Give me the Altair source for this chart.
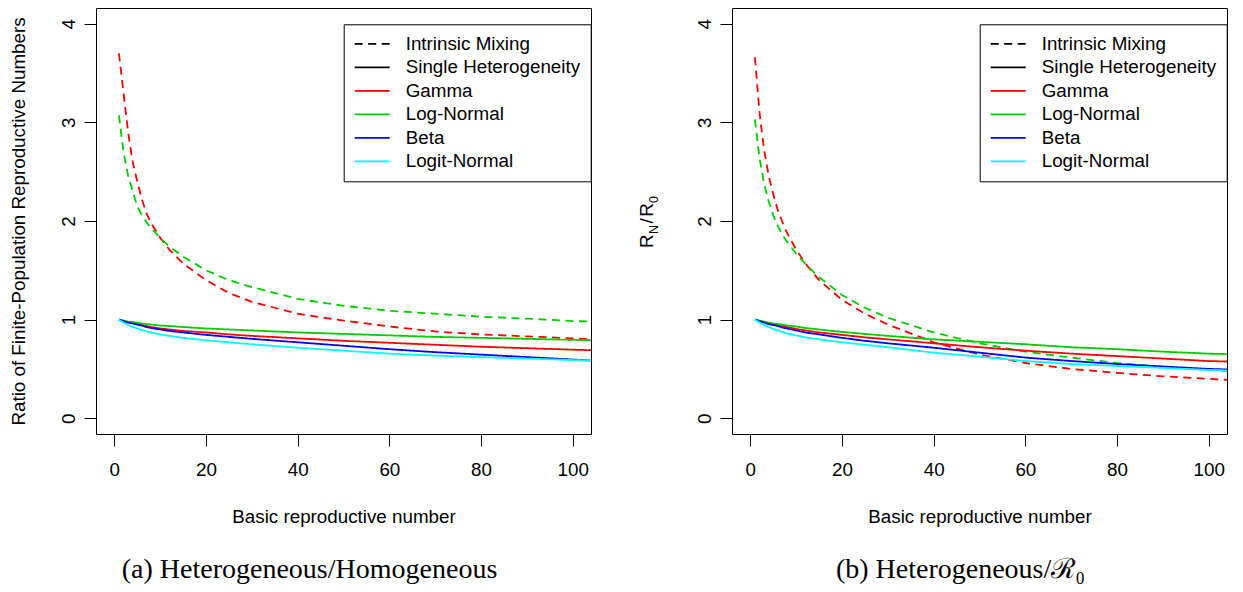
import altair as alt
import pandas as pd

# ---------------- data ----------------
R0 = [1, 2, 3, 4, 5, 6, 7, 8, 10, 12, 15, 20, 25, 30, 40, 50, 60, 70, 80, 90, 100, 104]

# panel (a): Heterogeneous / Homogeneous
a_gamma_mix = [3.70, 3.30, 2.90, 2.60, 2.40, 2.22, 2.08, 1.98, 1.83, 1.71, 1.57, 1.40, 1.27, 1.18, 1.06, 0.99, 0.93, 0.88, 0.85, 0.83, 0.81, 0.80]
a_lognorm_mix = [3.07, 2.70, 2.46, 2.30, 2.15, 2.06, 1.99, 1.93, 1.83, 1.74, 1.64, 1.50, 1.40, 1.33, 1.21, 1.14, 1.09, 1.06, 1.03, 1.01, 0.985, 0.98]
a_gamma_single = [1.00, 0.985, 0.975, 0.965, 0.955, 0.945, 0.935, 0.925, 0.91, 0.90, 0.885, 0.87, 0.85, 0.835, 0.81, 0.785, 0.765, 0.745, 0.725, 0.71, 0.695, 0.69]
a_lognorm_single = [1.00, 0.99, 0.98, 0.975, 0.97, 0.96, 0.955, 0.95, 0.94, 0.935, 0.925, 0.91, 0.90, 0.89, 0.87, 0.855, 0.84, 0.825, 0.815, 0.805, 0.795, 0.79]
a_beta_single = [1.00, 0.985, 0.97, 0.96, 0.95, 0.94, 0.925, 0.915, 0.90, 0.885, 0.87, 0.845, 0.825, 0.805, 0.77, 0.735, 0.70, 0.67, 0.645, 0.62, 0.595, 0.585]
a_logit_single = [1.00, 0.97, 0.945, 0.925, 0.91, 0.895, 0.88, 0.87, 0.85, 0.835, 0.815, 0.79, 0.77, 0.75, 0.715, 0.685, 0.655, 0.635, 0.62, 0.605, 0.59, 0.585]

# panel (b): Heterogeneous / R0
b_gamma_mix = [3.66, 3.10, 2.72, 2.46, 2.27, 2.11, 1.99, 1.88, 1.71, 1.57, 1.40, 1.20, 1.06, 0.95, 0.77, 0.645, 0.56, 0.50, 0.46, 0.425, 0.40, 0.39]
b_lognorm_mix = [3.03, 2.64, 2.38, 2.20, 2.06, 1.95, 1.86, 1.79, 1.67, 1.565, 1.43, 1.25, 1.12, 1.02, 0.87, 0.76, 0.675, 0.615, 0.56, 0.52, 0.49, 0.48]
b_gamma_single = [1.00, 0.985, 0.975, 0.965, 0.955, 0.945, 0.935, 0.925, 0.905, 0.89, 0.87, 0.845, 0.82, 0.80, 0.76, 0.72, 0.685, 0.655, 0.63, 0.605, 0.58, 0.575]
b_lognorm_single = [1.00, 0.99, 0.98, 0.97, 0.96, 0.955, 0.95, 0.94, 0.93, 0.915, 0.90, 0.875, 0.855, 0.835, 0.80, 0.775, 0.75, 0.72, 0.70, 0.675, 0.655, 0.65]
b_beta_single = [1.00, 0.985, 0.97, 0.955, 0.945, 0.935, 0.92, 0.91, 0.89, 0.87, 0.85, 0.815, 0.785, 0.76, 0.715, 0.665, 0.615, 0.58, 0.55, 0.525, 0.50, 0.495]
b_logit_single = [1.00, 0.97, 0.945, 0.925, 0.905, 0.89, 0.875, 0.86, 0.84, 0.82, 0.80, 0.77, 0.745, 0.72, 0.665, 0.625, 0.58, 0.55, 0.53, 0.51, 0.49, 0.485]

items = ["Intrinsic Mixing", "Single Heterogeneity", "Gamma", "Log-Normal", "Beta", "Logit-Normal"]
item_colors = ["#000000", "#000000", "#FF0000", "#00CD00", "#0000FF", "#00FFFF"]
x_ticks = [0, 20, 40, 60, 80, 100]
y_ticks = [0, 1, 2, 3, 4]

DASH = [8, 5.5]
SOLID = [1, 0]
item_dashes = [DASH, SOLID, SOLID, SOLID, SOLID, SOLID]

FONT = "Liberation Sans"
SERIF = "Liberation Serif"
FS = 18.8
W, H = 495, 426


def long_df(series):
    rows = []
    for dist, kind, vals in series:
        for x, v in zip(R0, vals):
            rows.append({"R0": x, "value": v, "dist": dist, "kind": kind})
    return pd.DataFrame(rows)


def legend():
    return alt.Legend(
        title=None, orient="none", direction="vertical",
        legendX=247.7, legendY=16.3, padding=10,
        strokeColor="black", fillColor="white", cornerRadius=0,
        labelFont=FONT, labelFontSize=FS, labelColor="black", labelLimit=400,
        labelOffset=15, symbolType="stroke", symbolSize=1225,
        symbolStrokeWidth=1.8, clipHeight=19, rowPadding=3.5,
    )


def lines_chart(df, ytitle):
    yaxis_kw = dict(
        values=y_ticks, domain=False, grid=False, tickSize=12, tickColor="black",
        tickWidth=1, labelAngle=270, labelAlign="center", labelBaseline="bottom",
        labelPadding=6, labelFont=FONT, labelFontSize=FS, labelColor="black",
    )
    if ytitle:
        yaxis = alt.Axis(
            title=ytitle, titleFont=FONT, titleFontSize=FS, titleFontWeight="normal",
            titleColor="black", titleAngle=270, titleX=-78, titleY=H / 2,
            titleAlign="center", titleBaseline="middle", **yaxis_kw)
    else:
        yaxis = alt.Axis(title=None, **yaxis_kw)
    xaxis = alt.Axis(
        values=x_ticks, domain=False, grid=False, tickSize=12, tickColor="black",
        tickWidth=1, labelFont=FONT, labelFontSize=FS, labelColor="black",
        labelPadding=14, labelFlush=False,
        title="Basic reproductive number", titleFont=FONT, titleFontSize=FS,
        titleFontWeight="normal", titleColor="black", titleX=W / 2, titleY=82,
        titleAlign="center", titleBaseline="middle",
    )
    return alt.Chart(df).mark_line(strokeWidth=1.8, clip=True).encode(
        x=alt.X("R0:Q", scale=alt.Scale(domain=[-4, 104], nice=False, zero=False), axis=xaxis),
        y=alt.Y("value:Q", scale=alt.Scale(domain=[-0.16, 4.16], nice=False, zero=False), axis=yaxis),
        color=alt.Color("dist:N", scale=alt.Scale(domain=items, range=item_colors), legend=legend()),
        strokeDash=alt.StrokeDash("kind:N", scale=alt.Scale(domain=items, range=item_dashes), legend=legend()),
    )


def caption(text, dx):
    return alt.TitleParams(text, orient="bottom", font=SERIF, fontSize=28,
                           fontWeight="normal", color="black", anchor="middle",
                           offset=30, dx=dx)


def label_piece(text, x, y, size):
    return alt.Chart(alt.Data(values=[{}])).mark_text(
        text=text, angle=270, align="left", baseline="alphabetic",
        font=FONT, fontSize=size, color="black",
    ).encode(x=alt.value(x), y=alt.value(y))


df_a = long_df([
    ("Gamma", "Intrinsic Mixing", a_gamma_mix),
    ("Log-Normal", "Intrinsic Mixing", a_lognorm_mix),
    ("Gamma", "Single Heterogeneity", a_gamma_single),
    ("Log-Normal", "Single Heterogeneity", a_lognorm_single),
    ("Beta", "Single Heterogeneity", a_beta_single),
    ("Logit-Normal", "Single Heterogeneity", a_logit_single),
])
df_b = long_df([
    ("Gamma", "Intrinsic Mixing", b_gamma_mix),
    ("Log-Normal", "Intrinsic Mixing", b_lognorm_mix),
    ("Gamma", "Single Heterogeneity", b_gamma_single),
    ("Log-Normal", "Single Heterogeneity", b_lognorm_single),
    ("Beta", "Single Heterogeneity", b_beta_single),
    ("Logit-Normal", "Single Heterogeneity", b_logit_single),
])

panel_a = alt.layer(
    lines_chart(df_a, "Ratio of Finite-Population Reproductive Numbers")
).properties(width=W, height=H, title=caption("(a) Heterogeneous/Homogeneous", -34))

sub = 12.5
panel_b = alt.layer(
    lines_chart(df_b, None),
    label_piece("R", -79, 240, FS),
    label_piece("N", -74.5, 225.9, sub),
    label_piece("/", -79, 215.4, FS),
    label_piece("R", -79, 208.7, FS),
    label_piece("0", -74.5, 195.1, sub),
).properties(width=W, height=H, title=caption("(b) Heterogeneous/\u211B\u2080", -19))

chart = alt.hconcat(panel_a, panel_b, spacing=141, bounds="flush").resolve_scale(
    color="independent", strokeDash="independent", x="independent", y="independent"
).resolve_legend(
    color="independent", strokeDash="independent"
).properties(
    padding={"left": 8, "top": 7, "right": 5, "bottom": 5}
).configure_view(stroke="black", strokeWidth=1)

chart.save("out.html", embed_options={"renderer": "svg", "actions": False})
